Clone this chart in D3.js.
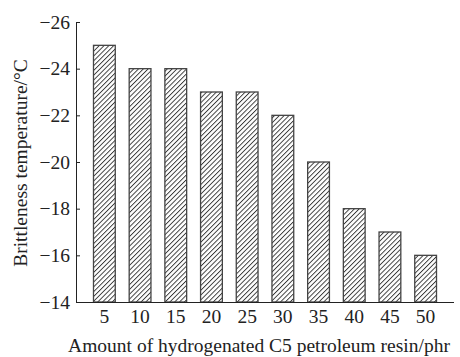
<!DOCTYPE html>
<html>
<head>
<meta charset="utf-8">
<script src="https://cdn.jsdelivr.net/npm/d3@7"></script>
<style>
  html, body { margin: 0; padding: 0; background: #fff; }
  svg { display: block; }
  svg text { font-family: "Liberation Serif", "Times New Roman", serif; fill: #222; }
</style>
</head>
<body>
<div id="chart"></div>
<script>
const categories = ["5", "10", "15", "20", "25", "30", "35", "40", "45", "50"];
const values = [-25, -24, -24, -23, -23, -22, -20, -18, -17, -16];
const yTicks = [-14, -16, -18, -20, -22, -24, -26];
const xTitle = "Amount of hydrogenated C5 petroleum resin/phr";
const yTitle = "Brittleness temperature/\u00B0C";

const W = 460, H = 357;
const mLeft = 76, mRight = 454, mTop = 22, mBottom = 302;
const serif = "Liberation Serif";

const svg = d3.select("#chart").append("svg").attr("width", W).attr("height", H)
  .attr("font-family", serif);

const defs = svg.append("defs");
const pat = defs.append("pattern")
  .attr("id", "hatch").attr("patternUnits", "userSpaceOnUse")
  .attr("width", 3.4).attr("height", 3.4)
  .attr("patternTransform", "rotate(45)");
pat.append("rect").attr("width", 3.4).attr("height", 3.4).attr("fill", "#fff");
pat.append("line").attr("x1", 0.5).attr("y1", 0).attr("x2", 0.5).attr("y2", 3.4)
  .attr("stroke", "#222").attr("stroke-width", 0.85);

const x = d3.scaleBand().domain(categories).range([mLeft, mRight])
  .paddingInner(0.39).paddingOuter(0.49);
const y = d3.scaleLinear().domain([-14, -26]).range([mBottom, mTop]);

svg.append("g").selectAll("rect").data(values).join("rect")
  .attr("x", (d, i) => x(categories[i]))
  .attr("y", d => y(d))
  .attr("width", x.bandwidth())
  .attr("height", d => y(-14) - y(d))
  .attr("fill", "url(#hatch)")
  .attr("stroke", "#444").attr("stroke-width", 1.3);

const yAxis = d3.axisLeft(y).tickValues(yTicks).tickSize(-4).tickPadding(6)
  .tickFormat(d => "\u2212" + Math.abs(d));
const gy = svg.append("g").attr("transform", `translate(${mLeft},0)`).call(yAxis);
gy.attr("font-family", serif).attr("font-size", 19.5);
gy.select(".domain").attr("stroke", "#222");
gy.selectAll(".tick line").attr("stroke", "#222");
gy.selectAll("text").attr("font-family", serif).attr("font-size", 19.5).attr("fill", "#222");

const xAxis = d3.axisBottom(x).tickSize(0).tickPadding(7);
const gx = svg.append("g").attr("transform", `translate(0,${mBottom})`).call(xAxis);
gx.attr("font-family", serif).attr("font-size", 19.5);
gx.select(".domain").attr("stroke", "#222").attr("d", `M${mLeft},0.5H${mRight}`);
gx.selectAll("text").attr("font-family", serif).attr("font-size", 19.5).attr("fill", "#222");

svg.append("text").attr("x", 259).attr("y", 352)
  .attr("text-anchor", "middle").attr("font-size", 19.5).attr("font-family", serif).text(xTitle);
svg.append("text")
  .attr("transform", `translate(27,163) rotate(-90)`)
  .attr("text-anchor", "middle").attr("font-size", 19.5).attr("font-family", serif).text(yTitle);
</script>
</body>
</html>
